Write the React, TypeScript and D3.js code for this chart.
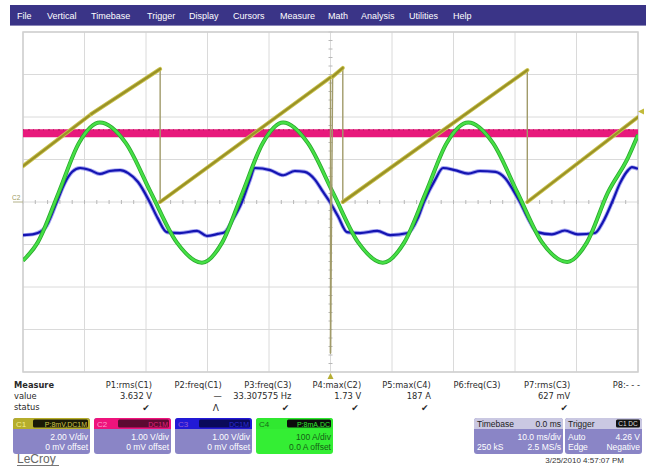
import * as d3 from 'd3';

// time axis: 10 ms/div, trigger at 0 ms in the centre
const timeTicks = d3.range(-50, 51, 10);
const divTicks = d3.range(-4, 5, 1);

// C1 – sawtooth (V), 2.00 V/div
const c1Time = [-50, -38.9, -27.7, -27.7, 0.0, 0.0, 0.35, 2.0, 2.0, 32.0, 32.0, 50];
const c1Volts = [1.69, 4.14, 6.26, 0, 5.86, -7.11, 5.9, 6.31, 0, 6.21, 0, 4.0];

// C2 – flat level (V), 1.00 V/div
const c2Time = [-50, 50];
const c2Volts = [1.62, 1.62];

// C3 – flattened wave (V), 1.00 V/div
const c3Time = [-50, -48.1, -46.4, -44.5, -43.2, -42.0, -40.7, -39.1, -37.5, -35.9, -34.2, -32.9, -31.3, -29.4, -28.1, -26.6, -24.5, -21.7, -20.1, -18.3, -17.2, -15.9, -14.4, -13.1, -12.3, -9.8, -7.7, -5.8, -4.2, -2.5, -1.4, -0.1, 1.2, 2.7, 4.8, 7.6, 9.7, 12.6, 14.2, 15.2, 17.0, 18.3, 20.2, 22.4, 24.3, 26.8, 28.4, 29.7, 30.8, 32.1, 33.6, 36.0, 38.1, 40.2, 43.0, 44.3, 45.8, 47.1, 48.4, 49.0, 50];
const c3Volts = [-0.78, -0.75, -0.61, 0, 0.45, 0.71, 0.80, 0.75, 0.66, 0.73, 0.75, 0.68, 0.47, 0, -0.38, -0.71, -0.73, -0.68, -0.80, -0.75, -0.71, -0.42, 0, 0.52, 0.80, 0.75, 0.63, 0.73, 0.71, 0.52, 0.28, 0, -0.33, -0.71, -0.73, -0.68, -0.78, -0.73, -0.38, 0, 0.52, 0.80, 0.75, 0.67, 0.73, 0.71, 0.56, 0.28, 0, -0.38, -0.71, -0.76, -0.67, -0.76, -0.73, -0.47, 0, 0.45, 0.75, 0.82, 0.78];

// C4 – current (A), 100 A/div
const c4Time = [-50, -47.6, -44.2, -40.9, -37.5, -33.3, -29.2, -25.0, -20.9, -17.6, -14.3, -11.0, -7.7, -3.7, 0.4, 4.5, 8.5, 12.0, 15.5, 18.9, 22.4, 26.4, 30.4, 34.4, 38.5, 41.7, 45.1, 48.4, 50];
const c4Amps = [-138, -95, 22, 139, 187, 139, 22, -95, -143, -95, 22, 139, 187, 139, 22, -95, -143, -95, 22, 139, 187, 139, 22, -95, -141, -95, 22, 105, 158];

const menuItems = ['File', 'Vertical', 'Timebase', 'Trigger', 'Display', 'Cursors', 'Measure', 'Math', 'Analysis', 'Utilities', 'Help'];
const menuX = [17, 47, 91, 147, 189, 233, 280, 328, 361, 409, 453];

const measureNames = ['P1:rms(C1)', 'P2:freq(C1)', 'P3:freq(C3)', 'P4:max(C2)', 'P5:max(C4)', 'P6:freq(C3)', 'P7:rms(C3)', 'P8:- - -'];
const measureValues = ['3.632 V', '\u2014', '33.307575 Hz', '1.73 V', '187 A', '', '627 mV', ''];
const measureStatus = ['\u2714', '\u039b', '\u2714', '\u2714', '\u2714', '', '\u2714', ''];

const channelNames = ['C1', 'C2', 'C3', 'C4'];
const channelScale = ['2.00 V/div', '1.00 V/div', '1.00 V/div', '100 A/div'];
const channelOffset = ['0 mV offset', '0 mV offset', '0 mV offset', '0.0 A offset'];
const channelTag = ['P:8mV,DC1M', 'DC1M', 'DC1M', 'P:8mA,DC'];

const triggerLevel = 4.26;

const W = 650, H = 469;
const plot = { left: 23, right: 638, top: 32, bottom: 372 };
const FONT = '"Liberation Sans", Arial, sans-serif';
const TFONT = '"DejaVu Sans", Verdana, sans-serif';

const x = d3.scaleLinear().domain([-50, 50]).range([plot.left, plot.right]);
const yDiv = d3.scaleLinear().domain([-4, 4]).range([plot.bottom, plot.top]);
const y1 = d3.scaleLinear().domain([-8, 8]).range([plot.bottom, plot.top]);
const y2 = d3.scaleLinear().domain([-4, 4]).range([plot.bottom, plot.top]);
const y3 = d3.scaleLinear().domain([-4, 4]).range([plot.bottom, plot.top]);
const y4 = d3.scaleLinear().domain([-400, 400]).range([plot.bottom, plot.top]);

const colRight = d3.scaleLinear().domain([0, 7]).range([152, 640]);
const boxX = d3.scaleLinear().domain([0, 1]).range([13, 94]);

function trace(ts: number[], vs: number[], y: d3.ScaleLinear<number, number>, curve: d3.CurveFactory) {
  const pts = ts.map((t, i) => [t, vs[i]] as [number, number]);
  return d3.line<[number, number]>()
    .x(d => x(d[0]))
    .y(d => y(d[1]))
    .curve(curve)(pts) || '';
}

function Grid() {
  const cx = x(0), cy = yDiv(0);
  const minorX = d3.range(-50, 50.01, 2);
  const minorY = d3.range(-4, 4.01, 0.2);
  return (
    <g>
      {timeTicks.map(t => (
        <line key={'v' + t} x1={x(t)} x2={x(t)} y1={plot.top} y2={plot.bottom} stroke="#dadada" strokeWidth={1} />
      ))}
      {divTicks.map(d => (
        <line key={'h' + d} x1={plot.left} x2={plot.right} y1={yDiv(d)} y2={yDiv(d)} stroke="#dadada" strokeWidth={1} />
      ))}
      {minorX.map(t => (
        <line key={'mx' + t} x1={x(t)} x2={x(t)} y1={cy - 2} y2={cy + 2} stroke="#b8b8b8" strokeWidth={1} />
      ))}
      {minorY.map(d => (
        <line key={'my' + d} x1={cx - 2} x2={cx + 2} y1={yDiv(d)} y2={yDiv(d)} stroke="#b8b8b8" strokeWidth={1} />
      ))}
      <rect x={plot.left} y={plot.top} width={plot.right - plot.left} height={plot.bottom - plot.top}
        fill="none" stroke="#cfcfcf" strokeWidth={1.5} />
    </g>
  );
}

function SawTrace() {
  const segs = c1Time.slice(1).map((t, i) => {
    const t0 = c1Time[i], v0 = c1Volts[i], v1 = c1Volts[i + 1];
    const steep = Math.abs(t - t0) < 0.5;
    return { x1: x(t0), y1: y1(v0), x2: x(t), y2: y1(v1), steep };
  });
  return (
    <g strokeLinecap="round">
      {segs.filter(s => s.steep).map((s, i) => (
        <line key={'d' + i} x1={s.x1} y1={s.y1} x2={s.x2} y2={s.y2} stroke="#a19b6a" strokeWidth={1.4} />
      ))}
      {segs.filter(s => !s.steep).map((s, i) => (
        <g key={'r' + i}>
          <line x1={s.x1} y1={s.y1} x2={s.x2} y2={s.y2} stroke="#c9c24e" strokeWidth={4} />
          <line x1={s.x1} y1={s.y1} x2={s.x2} y2={s.y2} stroke="#9a9226" strokeWidth={2.2} />
        </g>
      ))}
    </g>
  );
}

function ChannelBox({ i }: { i: number }) {
  const x0 = boxX(i), w = 77, top = 418, hh = 11, h = 36;
  const head = ['#b5ad2c', '#ee137c', '#2219d6', '#30e830'][i];
  const tagFill = ['#1a1a06', '#5c0a32', '#0a0a5a', '#0c0c0c'][i];
  const tagText = ['#cfc64a', '#e0207a', '#2a2ad8', '#30e830'][i];
  const body = i === 3 ? '#34ee34' : '#8a85c6';
  const textCol = i === 3 ? '#156015' : '#ffffff';
  return (
    <g fontFamily={FONT}>
      <rect x={x0} y={top} width={w} height={h} rx={3} fill={body} />
      <path d={`M${x0},${top + hh} V${top + 3} Q${x0},${top} ${x0 + 3},${top} H${x0 + w - 3} Q${x0 + w},${top} ${x0 + w},${top + 3} V${top + hh} Z`} fill={head} />
      <rect x={x0 + (i === 0 ? 20 : i === 3 ? 31 : 24)} y={top + 1.5} width={w - (i === 0 ? 22 : i === 3 ? 33 : 26)} height={hh - 3} rx={1.5} fill={tagFill} />
      <text x={x0 + 3} y={top + 8.5} fontSize={8} fill={i === 3 ? '#186818' : i === 0 ? '#f4f090' : '#ff9ccc'} opacity={i === 2 ? 0.5 : 1}>{channelNames[i]}</text>
      <text x={x0 + w - 3} y={top + 8.5} fontSize={7} textAnchor="end" fill={tagText}>{channelTag[i]}</text>
      <text x={x0 + w - 2} y={top + 21.5} fontSize={8.5} textAnchor="end" fill={textCol}>{channelScale[i]}</text>
      <text x={x0 + w - 2} y={top + 32} fontSize={8.5} textAnchor="end" fill={textCol}>{channelOffset[i]}</text>
    </g>
  );
}

function InfoBox({ x0, w, title, titleRight, tag, rows }: { x0: number; w: number; title: string; titleRight?: string; tag?: string; rows: [string, string][] }) {
  const top = 418, hh = 11, h = 36;
  return (
    <g fontFamily={FONT}>
      <rect x={x0} y={top} width={w} height={h} rx={3} fill="#8a85c6" />
      <path d={`M${x0},${top + hh} V${top + 3} Q${x0},${top} ${x0 + 3},${top} H${x0 + w - 3} Q${x0 + w},${top} ${x0 + w},${top + 3} V${top + hh} Z`} fill="#cac8e2" />
      <text x={x0 + 3} y={top + 8.5} fontSize={8.5} fill="#222">{title}</text>
      {titleRight && <text x={x0 + w - 2} y={top + 8.5} fontSize={8.5} textAnchor="end" fill="#222">{titleRight}</text>}
      {tag && (
        <g>
          <rect x={x0 + w - 26} y={top + 1.5} width={24} height={hh - 3} rx={1.5} fill="#111" />
          <text x={x0 + w - 14} y={top + 8.3} fontSize={6.5} textAnchor="middle" fill="#ddd">{tag}</text>
        </g>
      )}
      {rows.map((r, k) => (
        <g key={k}>
          <text x={x0 + 3} y={top + 21.5 + k * 10.5} fontSize={8.5} fill="#fff">{r[0]}</text>
          <text x={x0 + w - 2} y={top + 21.5 + k * 10.5} fontSize={8.5} textAnchor="end" fill="#fff">{r[1]}</text>
        </g>
      ))}
    </g>
  );
}

export default function App() {
  return (
    <svg width={W} height={H} viewBox={`0 0 ${W} ${H}`}
      style={{ position: 'absolute', left: 0, top: 0, background: '#fff' }}>
      <defs>
        <clipPath id="plotClip">
          <rect x={plot.left} y={plot.top} width={plot.right - plot.left} height={plot.bottom - plot.top} />
        </clipPath>
      </defs>
      <rect width={W} height={H} fill="#fff" />

      {/* menu bar */}
      <rect x={10} y={5} width={636} height={21} fill="#3a3487" />
      <rect x={10} y={25} width={636} height={1} fill="#8a86b8" />
      {menuItems.map((m, i) => (
        <text key={m} x={menuX[i]} y={19} fontSize={9} fill="#fff" fontFamily={FONT}>{m}</text>
      ))}

      <Grid />

      <g clipPath="url(#plotClip)" fill="none" strokeLinejoin="round">
        {/* C2 pink band */}
        <path d={trace(c2Time, c2Volts, y2, d3.curveLinear)} stroke="#e8197c" strokeWidth={8} />
        <path d={trace(c2Time, c2Volts.map(v => v + 0.08), y2, d3.curveLinear)} stroke="#9e0c4c" strokeWidth={1.5} strokeDasharray="1 4 2 3" opacity={0.55} />
        {/* C3 blue */}
        <path d={trace(c3Time, c3Volts, y3, d3.curveMonotoneX)} stroke="#4a4ae6" strokeWidth={4} opacity={0.5} />
        <path d={trace(c3Time, c3Volts, y3, d3.curveMonotoneX)} stroke="#1414b2" strokeWidth={2.2} />
        {/* C4 green */}
        <path d={trace(c4Time, c4Amps, y4, d3.curveMonotoneX)} stroke="#2aa82c" strokeWidth={4} />
        <path d={trace(c4Time, c4Amps, y4, d3.curveMonotoneX)} stroke="#46e046" strokeWidth={2.4} />
        {/* C1 yellow */}
        <SawTrace />
      </g>

      {/* markers */}
      <text x={12} y={200} fontSize={6.5} fill="#9c9a62" fontFamily={FONT}>C2</text>
      <line x1={13} x2={plot.left} y1={yDiv(0)} y2={yDiv(0)} stroke="#b4b28a" strokeWidth={1} />
      <path d={`M${x(0)},${plot.bottom + 1} l-3,6 h6 Z`} fill="#b6ae34" />
      <path d={`M${plot.right},${y1(triggerLevel)} l6,-3 v6 Z`} fill="#c2ba3a" />

      {/* measurement table */}
      <g fontFamily={TFONT} fontSize={8.3} fill="#2a2a2a">
        <text x={14} y={388} fontWeight="bold">Measure</text>
        <text x={14} y={399}>value</text>
        <text x={14} y={410}>status</text>
        {measureNames.map((n, i) => (
          <g key={n}>
            <text x={colRight(i)} y={388} textAnchor="end">{n}</text>
            <text x={colRight(i)} y={399} textAnchor="end">{measureValues[i]}</text>
            <text x={colRight(i) - 6} y={410.5} textAnchor="middle" fontSize={9}>{measureStatus[i]}</text>
          </g>
        ))}
      </g>

      {channelNames.map((c, i) => <ChannelBox key={c} i={i} />)}

      <InfoBox x0={474} w={89} title="Timebase" titleRight="0.0 ms"
        rows={[['', '10.0 ms/div'], ['250 kS', '2.5 MS/s']]} />
      <InfoBox x0={565} w={77} title="Trigger" tag="C1 DC"
        rows={[['Auto', '4.26 V'], ['Edge', 'Negative']]} />

      <text x={624} y={463} fontSize={8} textAnchor="end" fill="#333" fontFamily={FONT}>3/25/2010 4:57:07 PM</text>

      <text x={17} y={463} fontSize={12} fill="#666" fontFamily={FONT}>LeCroy</text>
      <line x1={17} x2={59} y1={465.5} y2={465.5} stroke="#777" strokeWidth={1} />
    </svg>
  );
}
